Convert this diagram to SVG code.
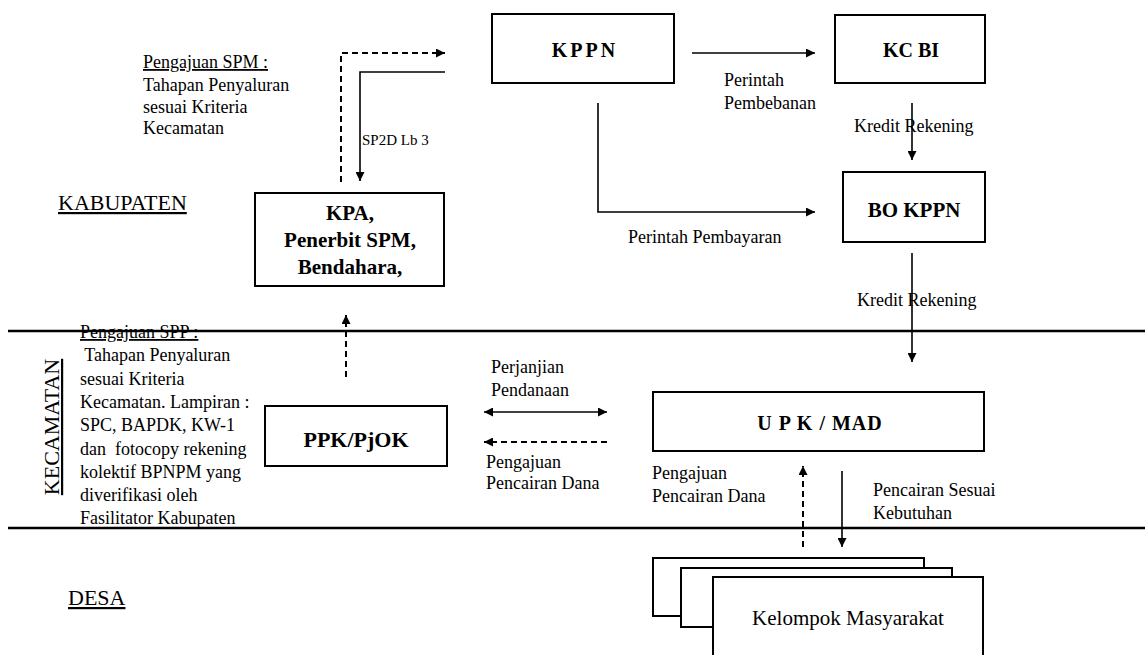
<svg xmlns="http://www.w3.org/2000/svg" width="1145" height="655" viewBox="0 0 1145 655">
<defs>
<style>
text{font-family:"Liberation Serif","Times New Roman",serif;fill:#000}
.t{font-size:18px}
.s{font-size:15px}
.f20{font-size:20px}
.f21{font-size:21px}
.f22{font-size:22px}
.u{text-decoration:underline}
.b{font-weight:bold;text-anchor:middle}
.box{fill:#fff;stroke:#000;stroke-width:2}
.c{fill:none;stroke:#000;stroke-width:1.6}
.d{fill:none;stroke:#000;stroke-width:2;stroke-dasharray:6 4}
.sep{stroke:#000;stroke-width:2.5}
</style>
<marker id="ah" viewBox="0 0 10 10" refX="10" refY="5" markerWidth="9" markerHeight="9" markerUnits="userSpaceOnUse" orient="auto-start-reverse">
<path d="M0,0 L10,5 L0,10 z" fill="#000"/>
</marker>
</defs>
<rect width="1145" height="655" fill="#fff"/>

<g id="separators">
<line class="sep" x1="8" y1="331" x2="1145" y2="331"/>
<line class="sep" x1="8" y1="528" x2="1145" y2="528"/>
</g>

<g id="region-labels">
<text x="58" y="210" class="f22 u">KABUPATEN</text>
<text transform="translate(59,427) rotate(-90)" class="f22 u" text-anchor="middle">KECAMATAN</text>
<text x="68" y="605" class="f22 u">DESA</text>
</g>

<g id="node-kppn">
<rect class="box" x="492" y="14" width="182" height="69"/>
<text class="f20 b" x="585" y="57" letter-spacing="3">KPPN</text>
</g>
<g id="node-kcbi">
<rect class="box" x="835" y="15" width="150" height="68"/>
<text class="f20 b" x="911" y="57">KC BI</text>
</g>
<g id="node-bokppn">
<rect class="box" x="843" y="172" width="142" height="70"/>
<text class="f21 b" x="914" y="217">BO KPPN</text>
</g>
<g id="node-kpa">
<rect class="box" x="255" y="193" width="189" height="93"/>
<text class="f21 b" x="350" y="220">KPA,</text>
<text class="f21 b" x="350" y="247">Penerbit SPM,</text>
<text class="f21 b" x="350" y="274">Bendahara,</text>
</g>
<g id="node-ppk">
<rect class="box" x="265" y="406" width="182" height="60"/>
<text class="f22 b" x="356" y="447">PPK/PjOK</text>
</g>
<g id="node-upk">
<rect class="box" x="653" y="392" width="331" height="59"/>
<text class="f20 b" x="820" y="430" letter-spacing="1">U P K / MAD</text>
</g>
<g id="node-kelompok">
<rect class="box" x="653" y="558" width="271" height="58"/>
<rect class="box" x="681" y="568" width="271" height="59"/>
<rect class="box" x="713" y="577" width="270" height="90"/>
<text class="f21" x="848" y="625" text-anchor="middle">Kelompok Masyarakat</text>
</g>

<g id="connectors">
<path class="d" d="M341,182 V53 H445" marker-end="url(#ah)"/>
<path class="c" d="M445,72 H360 V181" marker-end="url(#ah)"/>
<path class="c" d="M692,53 H815" marker-end="url(#ah)"/>
<path class="c" d="M912,103 V160" marker-end="url(#ah)"/>
<path class="c" d="M598,103 V212 H815" marker-end="url(#ah)"/>
<path class="c" d="M912,253 V362" marker-end="url(#ah)"/>
<path class="d" d="M346,377 V315" marker-end="url(#ah)"/>
<path class="c" d="M484,412 H607" marker-start="url(#ah)" marker-end="url(#ah)"/>
<path class="d" d="M607,442 H484" marker-end="url(#ah)"/>
<path class="d" d="M803,547 V466" marker-end="url(#ah)"/>
<path class="c" d="M842,471 V547" marker-end="url(#ah)"/>
</g>

<g id="labels">
<text class="t u" x="143" y="68">Pengajuan SPM :</text>
<text class="t" x="143" y="91">Tahapan Penyaluran</text>
<text class="t" x="143" y="113">sesuai Kriteria</text>
<text class="t" x="143" y="134">Kecamatan</text>
<text class="s" x="362" y="145">SP2D Lb 3</text>
<text class="t" x="724" y="86">Perintah</text>
<text class="t" x="724" y="109">Pembebanan</text>
<text class="t" x="854" y="132">Kredit Rekening</text>
<text class="t" x="628" y="243">Perintah Pembayaran</text>
<text class="t" x="857" y="306">Kredit Rekening</text>
<text class="t u" x="80" y="338">Pengajuan SPP :</text>
<text class="t" x="80" y="361" xml:space="preserve"> Tahapan Penyaluran</text>
<text class="t" x="80" y="384.5">sesuai Kriteria</text>
<text class="t" x="80" y="408">Kecamatan. Lampiran :</text>
<text class="t" x="80" y="431">SPC, BAPDK, KW-1</text>
<text class="t" x="80" y="454.5" xml:space="preserve">dan  fotocopy rekening</text>
<text class="t" x="80" y="478">kolektif BPNPM yang</text>
<text class="t" x="80" y="501">diverifikasi oleh</text>
<text class="t" x="80" y="524">Fasilitator Kabupaten</text>
<text class="t" x="491" y="373">Perjanjian</text>
<text class="t" x="491" y="396">Pendanaan</text>
<text class="t" x="486" y="468">Pengajuan</text>
<text class="t" x="486" y="489">Pencairan Dana</text>
<text class="t" x="652" y="479">Pengajuan</text>
<text class="t" x="652" y="502">Pencairan Dana</text>
<text class="t" x="873" y="496">Pencairan Sesuai</text>
<text class="t" x="873" y="519">Kebutuhan</text>
</g>
</svg>
